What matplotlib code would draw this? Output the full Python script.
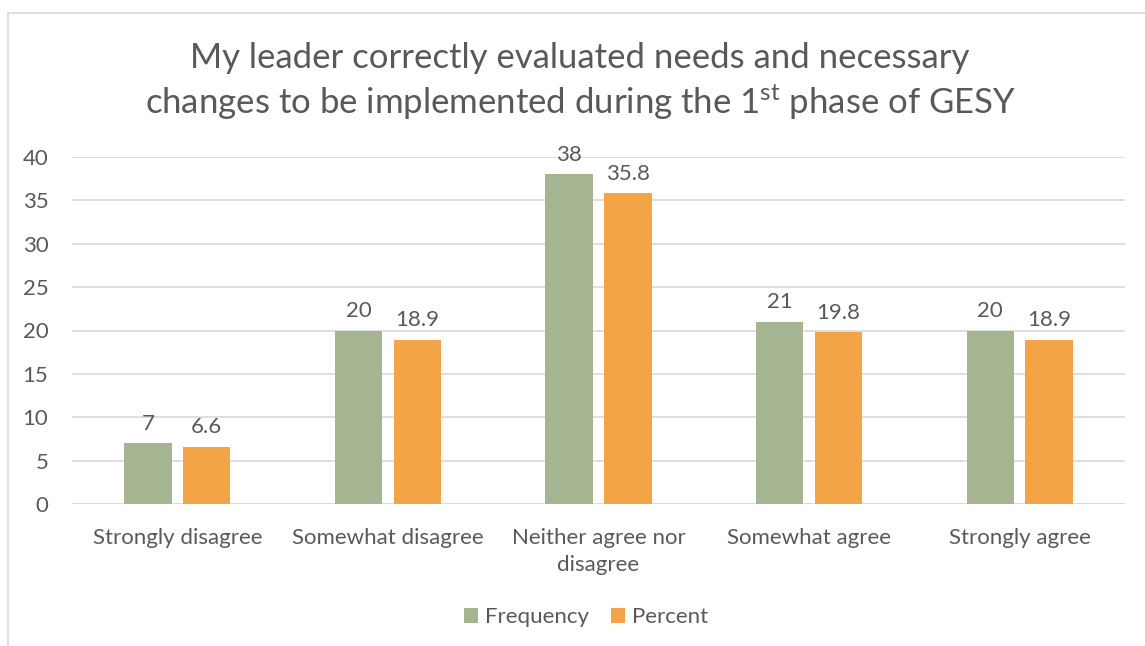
import matplotlib
matplotlib.use("Agg")
import matplotlib.pyplot as plt
import numpy as np

categories = ["Strongly disagree", "Somewhat disagree", "Neither agree nor\ndisagree",
              "Somewhat agree", "Strongly agree"]
frequency = [7, 20, 38, 21, 20]
percent = [6.6, 18.9, 35.8, 19.8, 18.9]
freq_labels = ["7", "20", "38", "21", "20"]
pct_labels = ["6.6", "18.9", "35.8", "19.8", "18.9"]
yticks = [0, 5, 10, 15, 20, 25, 30, 35, 40]

FONT = "Lato"
plt.rcParams['font.family'] = [FONT, 'DejaVu Sans']
plt.rcParams['mathtext.fontset'] = 'custom'
plt.rcParams['mathtext.rm'] = FONT
plt.rcParams['mathtext.it'] = FONT
TXT = "#595959"
GREEN = "#A5B592"
ORANGE = "#F3A447"
GRID = "#D9D9D9"
FS = 16

W, H = 1145, 646
fig = plt.figure(figsize=(W / 100, H / 100), dpi=100)
ax = fig.add_axes([72 / W, 1 - 504 / H, (1125 - 72) / W, (504 - 157) / H])

x = np.arange(len(categories))
bw = 0.225
off = 0.14
b1 = ax.bar(x - off, frequency, bw, color=GREEN, label="Frequency", zorder=3)
b2 = ax.bar(x + off, percent, bw, color=ORANGE, label="Percent", zorder=3)

for bars, labs in ((b1, freq_labels), (b2, pct_labels)):
    for rect, lab in zip(bars, labs):
        ax.annotate(lab, (rect.get_x() + rect.get_width() / 2, rect.get_height()),
                    xytext=(0, 7), textcoords="offset points", ha="center", va="bottom",
                    fontsize=FS, color=TXT)

ax.set_xlim(-0.5, len(categories) - 0.5)
ax.set_ylim(0, 40)
ax.set_yticks(yticks)
ax.set_yticklabels([str(t) for t in yticks])
ax.set_xticks(x)
ax.set_xticklabels(categories, linespacing=1.45)
ax.tick_params(axis='both', length=0, labelsize=FS, colors=TXT)
ax.tick_params(axis='y', pad=17)
ax.tick_params(axis='x', pad=17)
ax.yaxis.grid(True, color=GRID, linewidth=1.2, zorder=0)
for s in ax.spines.values():
    s.set_visible(False)
ax.axhline(0, color=GRID, linewidth=1.2, zorder=2)

fig.text(580 / W, 1 - 58 / H,
         "My leader correctly evaluated needs and necessary",
         ha="center", va="center", fontsize=25, color=TXT)
fig.text(581 / W, 1 - 102 / H,
         "changes to be implemented during the 1$^{\\mathrm{st}}$ phase of GESY",
         ha="center", va="center", fontsize=25, color=TXT)

fig.legend(handles=[b1, b2], loc="center", bbox_to_anchor=(586 / W, 1 - 617 / H),
           ncol=2, frameon=False, fontsize=FS, labelcolor=TXT,
           handlelength=0.65, handleheight=0.65, handletextpad=0.3, columnspacing=1.0)

# chart border (left and top visible)
fig.add_artist(plt.Line2D([8 / W, 8 / W], [0, 1 - 13 / H], transform=fig.transFigure,
                          color="#D9D9D9", linewidth=1.2))
fig.add_artist(plt.Line2D([8 / W, 1], [1 - 13 / H, 1 - 13 / H], transform=fig.transFigure,
                          color="#D9D9D9", linewidth=1.2))

fig.savefig("out.png", dpi=100, facecolor="white")
